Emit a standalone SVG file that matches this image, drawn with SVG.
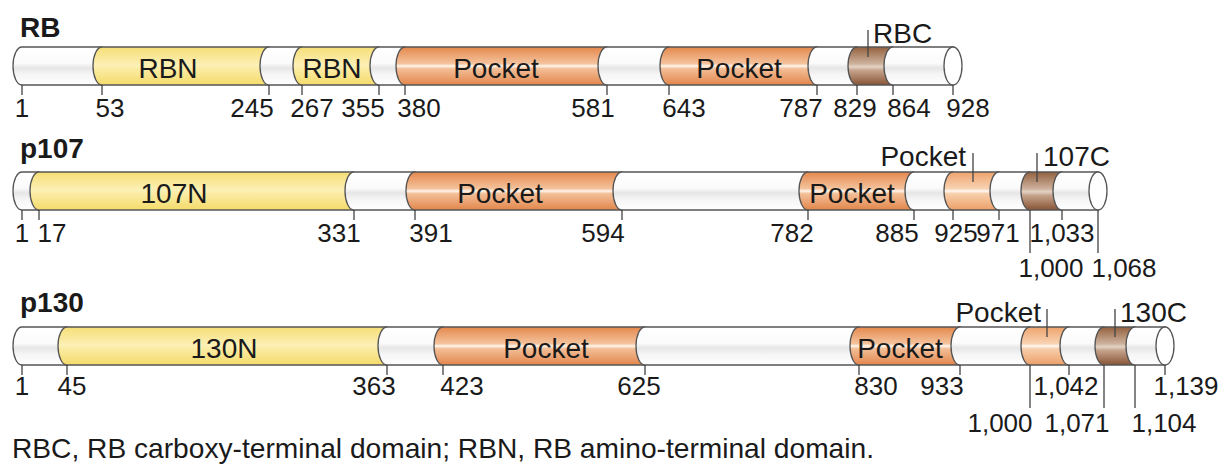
<svg xmlns="http://www.w3.org/2000/svg" width="1222" height="465" viewBox="0 0 1222 465">
<defs>
<linearGradient id="gW" x1="0" y1="0" x2="0" y2="1"><stop offset="0" stop-color="#ffffff"/><stop offset="0.42" stop-color="#fbfbfb"/><stop offset="0.55" stop-color="#e6e6e6"/><stop offset="0.72" stop-color="#f5f5f5"/><stop offset="1" stop-color="#ffffff"/></linearGradient>
<linearGradient id="gY" x1="0" y1="0" x2="0" y2="1"><stop offset="0" stop-color="#f6de76"/><stop offset="0.48" stop-color="#fcf0b6"/><stop offset="0.56" stop-color="#fbeca6"/><stop offset="1" stop-color="#f4db6a"/></linearGradient>
<linearGradient id="gO" x1="0" y1="0" x2="0" y2="1"><stop offset="0" stop-color="#e5884d"/><stop offset="0.44" stop-color="#f4c39d"/><stop offset="0.5" stop-color="#fff6ee"/><stop offset="0.57" stop-color="#f3bf98"/><stop offset="1" stop-color="#e2864b"/></linearGradient>
<linearGradient id="gL" x1="0" y1="0" x2="0" y2="1"><stop offset="0" stop-color="#eea36c"/><stop offset="0.44" stop-color="#f8d3b3"/><stop offset="0.5" stop-color="#fff8f2"/><stop offset="0.57" stop-color="#f7cfad"/><stop offset="1" stop-color="#ec9f67"/></linearGradient>
<linearGradient id="gB" x1="0" y1="0" x2="0" y2="1"><stop offset="0" stop-color="#93613f"/><stop offset="0.44" stop-color="#cdb19c"/><stop offset="0.52" stop-color="#e3d2c4"/><stop offset="0.62" stop-color="#c4a28b"/><stop offset="1" stop-color="#885435"/></linearGradient>
<style>
.s{stroke:#555;stroke-width:1.3}
.w{fill:url(#gW)}.y{fill:url(#gY)}.o{fill:url(#gO)}.l{fill:url(#gL)}.b{fill:url(#gB)}
.cap{fill:#fff;stroke:#555;stroke-width:1.3}
.tk{stroke:#444;stroke-width:1.3;fill:none}
text{font-family:"Liberation Sans",Arial,sans-serif;fill:#1a1a1a}
.n{font-size:26px;text-anchor:middle}
.lab{font-size:28px;text-anchor:middle}
.top{font-size:28px}
.ttl{font-size:28px;font-weight:bold}
.foot{font-size:28px}
</style>
</defs>

<g id="rb">
<text class="ttl" x="20" y="37">RB</text>
<g class="s">
<path class="w" d="M22 47H102V85H22A9 19 0 0 1 22 47Z"/>
<path class="y" d="M102 47H269V85H102A9 19 0 0 1 102 47Z"/>
<path class="w" d="M269 47H302V85H269A9 19 0 0 1 269 47Z"/>
<path class="y" d="M302 47H379V85H302A9 19 0 0 1 302 47Z"/>
<path class="w" d="M379 47H405V85H379A9 19 0 0 1 379 47Z"/>
<path class="o" d="M405 47H607V85H405A9 19 0 0 1 405 47Z"/>
<path class="w" d="M607 47H669V85H607A9 19 0 0 1 607 47Z"/>
<path class="o" d="M669 47H817V85H669A9 19 0 0 1 669 47Z"/>
<path class="w" d="M817 47H857V85H817A9 19 0 0 1 817 47Z"/>
<path class="b" d="M857 47H893V85H857A9 19 0 0 1 857 47Z"/>
<path class="w" d="M893 47H953V85H893A9 19 0 0 1 893 47Z"/>
</g>
<ellipse class="cap" cx="953" cy="66" rx="9" ry="19"/>
<text class="lab" x="168" y="78">RBN</text>
<text class="lab" x="332" y="78">RBN</text>
<text class="lab" x="496" y="78">Pocket</text>
<text class="lab" x="739" y="78">Pocket</text>
<text class="top" x="873" y="43">RBC</text>
<text class="n" x="22" y="117">1</text>
<text class="n" x="110" y="117">53</text>
<text class="n" x="252" y="117">245</text>
<text class="n" x="312" y="117">267</text>
<text class="n" x="363" y="117">355</text>
<text class="n" x="419" y="117">380</text>
<text class="n" x="593" y="117">581</text>
<text class="n" x="684" y="117">643</text>
<text class="n" x="801" y="117">787</text>
<text class="n" x="855" y="117">829</text>
<text class="n" x="909" y="117">864</text>
<text class="n" x="968" y="117">928</text>
</g>

<g id="p107">
<text class="ttl" x="20" y="158">p107</text>
<g class="s">
<path class="w" d="M22 172H39V210H22A9 19 0 0 1 22 172Z"/>
<path class="y" d="M39 172H354V210H39A9 19 0 0 1 39 172Z"/>
<path class="w" d="M354 172H415V210H354A9 19 0 0 1 354 172Z"/>
<path class="o" d="M415 172H622V210H415A9 19 0 0 1 415 172Z"/>
<path class="w" d="M622 172H808V210H622A9 19 0 0 1 622 172Z"/>
<path class="o" d="M808 172H914V210H808A9 19 0 0 1 808 172Z"/>
<path class="w" d="M914 172H953V210H914A9 19 0 0 1 914 172Z"/>
<path class="l" d="M953 172H999V210H953A9 19 0 0 1 953 172Z"/>
<path class="w" d="M999 172H1030V210H999A9 19 0 0 1 999 172Z"/>
<path class="b" d="M1030 172H1062V210H1030A9 19 0 0 1 1030 172Z"/>
<path class="w" d="M1062 172H1098V210H1062A9 19 0 0 1 1062 172Z"/>
</g>
<ellipse class="cap" cx="1098" cy="191" rx="9" ry="19"/>
<text class="lab" x="174" y="203">107N</text>
<text class="lab" x="500" y="203">Pocket</text>
<text class="lab" x="852" y="203">Pocket</text>
<text class="top" x="966" y="166" text-anchor="end">Pocket</text>
<text class="top" x="1043" y="166">107C</text>
<text class="n" x="22" y="242">1</text>
<text class="n" x="52" y="242">17</text>
<text class="n" x="339" y="242">331</text>
<text class="n" x="431" y="242">391</text>
<text class="n" x="603" y="242">594</text>
<text class="n" x="792" y="242">782</text>
<text class="n" x="897" y="242">885</text>
<text class="n" x="956" y="242">925</text>
<text class="n" x="998" y="242">971</text>
<text class="n" x="1062" y="242">1,033</text>
<text class="n" x="1051" y="277">1,000</text>
<text class="n" x="1124" y="277">1,068</text>
</g>

<g id="p130">
<text class="ttl" x="20" y="312">p130</text>
<g class="s">
<path class="w" d="M22 327H67V365H22A9 19 0 0 1 22 327Z"/>
<path class="y" d="M67 327H387V365H67A9 19 0 0 1 67 327Z"/>
<path class="w" d="M387 327H443V365H387A9 19 0 0 1 387 327Z"/>
<path class="o" d="M443 327H645V365H443A9 19 0 0 1 443 327Z"/>
<path class="w" d="M645 327H859V365H645A9 19 0 0 1 645 327Z"/>
<path class="o" d="M859 327H960V365H859A9 19 0 0 1 859 327Z"/>
<path class="w" d="M960 327H1030V365H960A9 19 0 0 1 960 327Z"/>
<path class="l" d="M1030 327H1069V365H1030A9 19 0 0 1 1030 327Z"/>
<path class="w" d="M1069 327H1104V365H1069A9 19 0 0 1 1069 327Z"/>
<path class="b" d="M1104 327H1135V365H1104A9 19 0 0 1 1104 327Z"/>
<path class="w" d="M1135 327H1165V365H1135A9 19 0 0 1 1135 327Z"/>
</g>
<ellipse class="cap" cx="1165" cy="346" rx="9" ry="19"/>
<text class="lab" x="224" y="358">130N</text>
<text class="lab" x="546" y="358">Pocket</text>
<text class="lab" x="900" y="358">Pocket</text>
<text class="top" x="1041" y="322" text-anchor="end">Pocket</text>
<text class="top" x="1120" y="322">130C</text>
<text class="n" x="22" y="395">1</text>
<text class="n" x="72" y="395">45</text>
<text class="n" x="374" y="395">363</text>
<text class="n" x="462" y="395">423</text>
<text class="n" x="639" y="395">625</text>
<text class="n" x="876" y="395">830</text>
<text class="n" x="942" y="395">933</text>
<text class="n" x="1066" y="395">1,042</text>
<text class="n" x="1186" y="395">1,139</text>
<text class="n" x="1000" y="432">1,000</text>
<text class="n" x="1077" y="432">1,071</text>
<text class="n" x="1164" y="432">1,104</text>
</g>

<g id="connectors" class="tk">
<path d="M22 85v10M102 85v10M269 85v10M302 85v10M379 85v10M405 85v10M607 85v10M669 85v10M817 85v10M857 85v10M893 85v10M953 85v10"/>
<path d="M868 30V57"/>
<path d="M22 210v10M39 210v10M354 210v10M415 210v10M622 210v10M808 210v10M914 210v10M953 210v10M999 210v10M1062 210v10"/>
<path d="M1030 210V253M1098 210V253"/>
<path d="M973 153V182M1037 153V182"/>
<path d="M22 365v10M67 365v10M387 365v10M443 365v10M645 365v10M859 365v10M960 365v10M1069 365v10M1165 365v10"/>
<path d="M1030 365V408M1104 365V408M1135 365V408"/>
<path d="M1047 309V337M1115 309V337"/>
</g>

<text class="foot" x="12" y="458" textLength="862" lengthAdjust="spacingAndGlyphs">RBC, RB carboxy-terminal domain; RBN, RB amino-terminal domain.</text>
</svg>
